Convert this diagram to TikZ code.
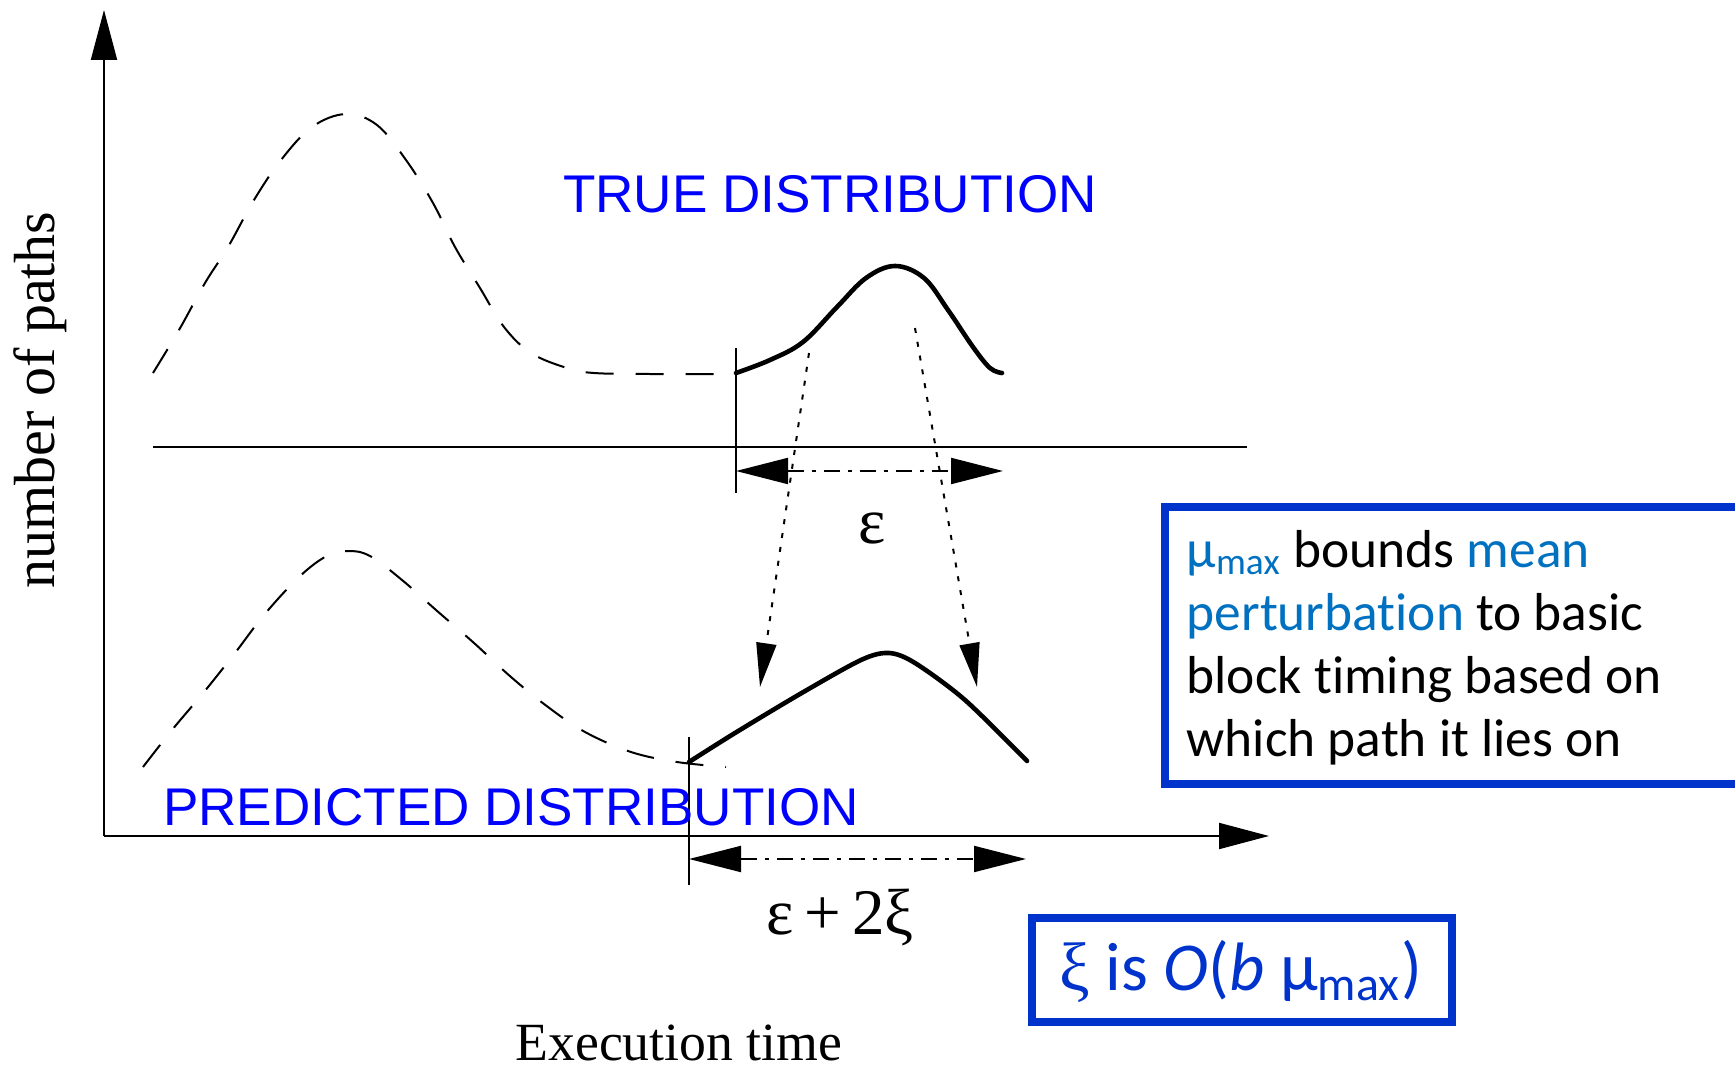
\documentclass[tikz,border=0pt]{standalone}
\usepackage{fontspec}
\setmainfont{Liberation Serif}
\newfontfamily\capsfont{Liberation Sans}
\newfontfamily\notefont[Ligatures=NoCommon]{Carlito}
\usetikzlibrary{arrows.meta, positioning, calc}
\definecolor{cLabel}{RGB}{0,0,255}
\definecolor{cFrame}{RGB}{0,51,204}
\definecolor{cAccent}{RGB}{0,112,192}
\newcommand{\hilite}[1]{\textcolor{cAccent}{#1}}

\begin{document}
\begin{tikzpicture}[x=0.1mm, y=-0.1mm,
    axis/.style={line width=0.2mm, -{Triangle[length=5mm, width=2.6mm]}},
    rule/.style={line width=0.18mm},
    ghost/.style={line width=0.2mm, dash pattern=on 2.8mm off 2.2mm},
    curve/.style={line width=0.46mm, line cap=round, line join=round},
    span/.style={line width=0.2mm, dash pattern=on 1.6mm off 0.8mm on 0.4mm off 0.8mm,
        {Triangle[length=5.2mm, width=2.6mm]}-{Triangle[length=5.2mm, width=2.6mm]}},
    shiftline/.style={line width=0.2mm, dash pattern=on 0.5mm off 0.9mm,
        -{Triangle[length=4.4mm, width=2mm]}},
    caption/.style={font=\capsfont\fontsize{15.1}{18}\selectfont, text=cLabel, inner sep=0pt},
    serifnote/.style={font=\fontsize{18.5}{22}\selectfont, inner sep=0pt},
    frame/.style={draw=cFrame, line width=0.75mm, rectangle, inner sep=0pt},
    notetext/.style={font=\notefont\fontsize{15.2}{18}\selectfont, inner sep=0pt}]

    \clip (0,0) rectangle (1735,1067);

    % Axes
    \coordinate (origin) at (104,836);
    \coordinate (yTip) at (104,10);
    \coordinate (xTip) at (1269,836);
    \draw [axis] (origin) -- (yTip);
    \draw [axis] (origin) -- (xTip);
    \node[rotate=90, font=\fontsize{16.5}{20}\selectfont, inner sep=0pt] (yLabel) at (40,400) {number of paths};
    \node[anchor=base, font=\fontsize{15.3}{19}\selectfont, inner sep=0pt] (xLabel) at (679,1060) {Execution time};

    % True distribution (upper)
    \coordinate (trueL) at (153,447);
    \coordinate (trueR) at (1247,447);
    \draw [rule] (trueL) -- (trueR);
    \draw [ghost] plot[smooth, tension=0.6] coordinates {(153,373) (179,330) (205,283) (228,247) (254,200) (281,160)
        (312,127) (346,114) (377,125) (406,160) (433,203) (455,247) (480,288) (504,327) (531,353) (567,368) (594,373) (650,374) (736,374)};
    \draw [curve] plot[smooth, tension=0.6] coordinates {(736,373) (770,360) (803,342) (837,307) (866,278) (895,266)
        (924,278) (948,310) (973,347) (990,368) (1002,373)};
    \coordinate (tickTopA) at (736,348);
    \coordinate (tickTopB) at (736,493);
    \draw [rule] (tickTopA) -- (tickTopB);
    \coordinate (epsL) at (736,471);
    \coordinate (epsR) at (1003,471);
    \draw [span] (epsL) -- (epsR);
    \node[serifnote] (eps) at (872,528) {ε};
    \node[caption] (trueCap) at (830,194) {TRUE DISTRIBUTION};

    % Predicted distribution (lower)
    \draw [ghost] plot[smooth, tension=0.6] coordinates {(143,767) (172,730) (204,692) (235,653) (264,615) (298,578)
        (325,557) (347,551) (370,556) (402,580) (436,610) (474,643) (511,677) (548,707) (585,732) (631,752) (677,762) (726,767)};
    \draw [curve] plot[smooth, tension=0.5] coordinates {(689,762) (735,733) (800,694) (861,660) (889,653)
        (915,663) (965,700) (1027,761)};
    \coordinate (tickBotA) at (689,737);
    \coordinate (tickBotB) at (689,885);
    \draw [rule] (tickBotA) -- (tickBotB);
    \coordinate (wideL) at (689,859);
    \coordinate (wideR) at (1026,859);
    \draw [span] (wideL) -- (wideR);
    \node[serifnote, anchor=base] (epsWide) at (840,934) {ε\,+\,2ξ};
    \node[caption] (predCap) at (511,807) {PREDICTED DISTRIBUTION};

    % Shift of the interval ends
    \coordinate (fromA) at (809,353);
    \coordinate (toA) at (760,687);
    \coordinate (fromB) at (915,328);
    \coordinate (toB) at (977,687);
    \draw [shiftline] (fromA) -- (toA);
    \draw [shiftline] (fromB) -- (toB);

    % Notes
    \node[frame, anchor=north west, minimum width=59.5mm, minimum height=27.7mm] (noteBox) at (1161,503) {};
    \foreach \n/\txt in {
        0/{\hilite{μ\textsubscript{max}} bounds \hilite{mean}},
        1/{\hilite{perturbation} to basic},
        2/{block timing based on},
        3/{which path it lies on}
    } {
        \node[notetext, anchor=base west] (line\n) at (1186,{567+63.3*\n}) {\txt};
    }
    \node[frame, minimum width=42mm, minimum height=10.4mm] (boundBox) at (1242,970) {};
    \node[anchor=base, inner sep=0pt, text=cFrame, font=\notefont\fontsize{19.5}{23}\selectfont] (boundText) at (1241,990)
        {{\rmfamily ξ} is \textit{O}(\textit{b} μ\textsubscript{max})};

\end{tikzpicture}
\end{document}
